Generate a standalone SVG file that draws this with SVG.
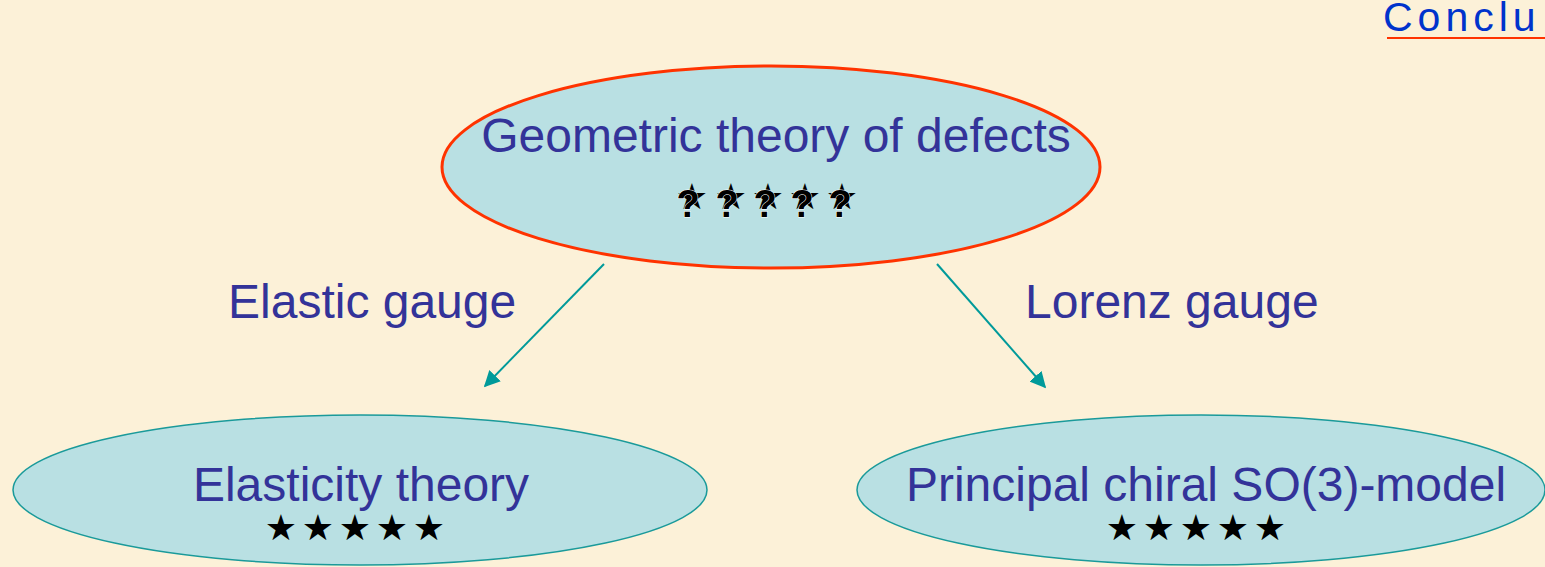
<svg xmlns="http://www.w3.org/2000/svg" width="1545" height="567" viewBox="0 0 1545 567">
<style>
.t{font-family:"Liberation Sans",Arial,sans-serif;fill:#333399;font-size:48px}
.s{font-family:"DejaVu Sans",sans-serif;fill:#000;font-size:36px}
.q{font-family:"Liberation Sans",Arial,sans-serif;font-weight:bold;fill:#000;font-size:38px;stroke:#fff;stroke-width:1;paint-order:stroke}
.node{fill:#b9e0e3}
.c{stroke:#009a9a;stroke-width:2;fill:none}
</style>
<defs>
<marker id="ah" viewBox="0 0 10 10" refX="9" refY="5" markerWidth="16" markerHeight="16" markerUnits="userSpaceOnUse" orient="auto">
<path d="M0,0 L10,5 L0,10 z" fill="#009a9a"/>
</marker>
</defs>
<rect width="1545" height="567" fill="#fcf1d8"/>
<g id="conclusion">
<text x="1383" y="31" letter-spacing="5" style="font-family:'Liberation Sans',Arial,sans-serif;font-size:41px;fill:#0033cc">Conclu</text>
<line x1="1387" y1="38" x2="1545" y2="38" stroke="#ff3300" stroke-width="2"/>
</g>
<g id="connectors">
<line class="c" x1="604" y1="264" x2="485" y2="386" marker-end="url(#ah)"/>
<line class="c" x1="937" y1="264" x2="1045" y2="387" marker-end="url(#ah)"/>
<text class="t" x="228" y="318">Elastic gauge</text>
<text class="t" x="1025" y="318">Lorenz gauge</text>
</g>
<g id="geometric">
<ellipse class="node" cx="771" cy="167" rx="329" ry="101" stroke="#ff3300" stroke-width="3"/>
<text class="t" x="776" y="152" text-anchor="middle">Geometric theory of defects</text>
<text class="s" x="692 731 768 805 842" y="209" text-anchor="middle">★★★★★</text>
<text class="q" x="688 727 765 802 840" y="217" text-anchor="middle">?????</text>
</g>
<g id="elasticity">
<ellipse class="node" cx="360" cy="490" rx="347" ry="75" stroke="#1a9a9a" stroke-width="1.5"/>
<text class="t" x="361" y="501" text-anchor="middle">Elasticity theory</text>
<text class="s" x="281 318 355 392 429" y="540" text-anchor="middle">★★★★★</text>
</g>
<g id="chiral">
<ellipse class="node" cx="1201" cy="490" rx="344" ry="75" stroke="#1a9a9a" stroke-width="1.5"/>
<text class="t" x="1206" y="501" text-anchor="middle">Principal chiral SO(3)-model</text>
<text class="s" x="1122 1159 1196 1233 1270" y="540" text-anchor="middle">★★★★★</text>
</g>
</svg>
